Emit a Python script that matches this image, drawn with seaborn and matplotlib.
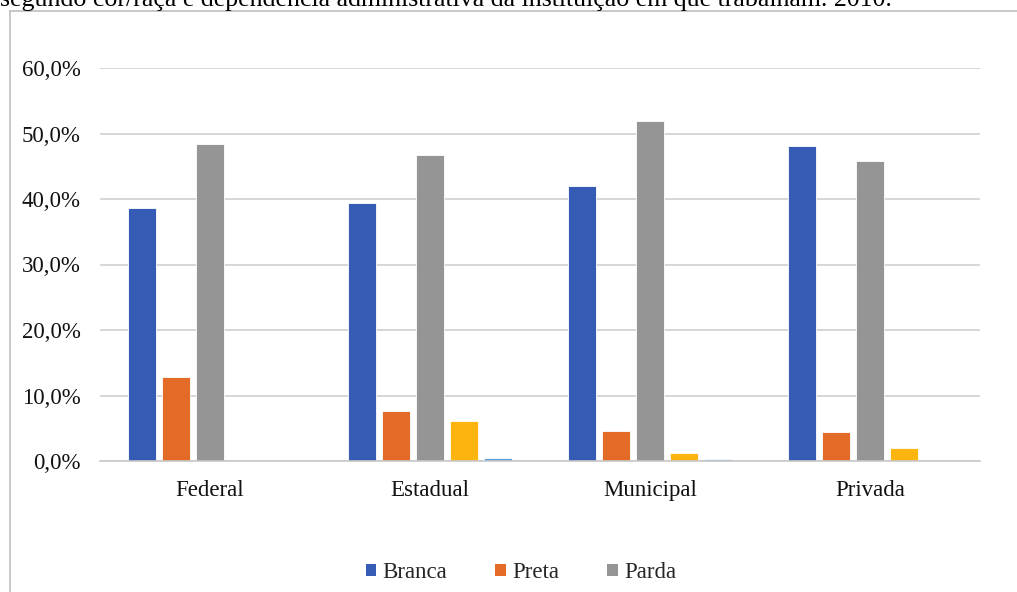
import matplotlib
matplotlib.use("Agg")
import matplotlib.pyplot as plt
from matplotlib.lines import Line2D
from matplotlib.patches import Patch
from matplotlib.ticker import FuncFormatter
import pandas as pd
import seaborn as sns

# Share of teachers by colour/race and administrative dependency (2010)
dependencias = ["Federal", "Estadual", "Municipal", "Privada"]
grupos = ["Branca", "Preta", "Parda", "Amarela", "Indígena"]
branca = [38.6, 39.4, 42.0, 48.1]
preta = [12.8, 7.6, 4.6, 4.4]
parda = [48.4, 46.7, 51.9, 45.8]
amarela = [0.0, 6.1, 1.2, 2.0]
indigena = [0.0, 0.4, 0.3, 0.0]
cores = ["#355bb5", "#e46a27", "#959595", "#fdb40f", "#5b9bd5"]
yticks = [0, 10, 20, 30, 40, 50, 60]

series = [branca, preta, parda, amarela, indigena]
rows = []
for g, vals in zip(grupos, series):
    for d, v in zip(dependencias, vals):
        rows.append({"dependencia": d, "grupo": g, "valor": v / 100})
df = pd.DataFrame(rows)

sns.set_theme(style="white")
plt.rcParams["font.family"] = ["Liberation Serif", "DejaVu Serif"]

W, H = 1017, 592
FS = 16.5
fig = plt.figure(figsize=(W / 100, H / 100), dpi=100)
fig.patch.set_facecolor("white")
ax = fig.add_axes([100 / W, 1 - 461 / H, 880 / W, (461 - 68) / H])

sns.barplot(data=df, x="dependencia", y="valor", hue="grupo",
            order=dependencias, hue_order=grupos, palette=cores,
            width=0.773, gap=0.2, saturation=1, errorbar=None,
            edgecolor="white", linewidth=0.6, legend=False, ax=ax)

ax.set_ylim(0, 0.6)
ax.set_xlim(-0.5, len(dependencias) - 0.5)
ax.set_yticks([t / 100 for t in yticks])
ax.yaxis.set_major_formatter(FuncFormatter(lambda v, _: f"{v * 100:.1f}%".replace(".", ",")))
ax.grid(axis="y", color="#d0d0d0", linewidth=1.2)
ax.set_axisbelow(True)
for s in ["top", "right", "left"]:
    ax.spines[s].set_visible(False)
ax.spines["bottom"].set_color("#c8c8c8")
ax.spines["bottom"].set_linewidth(1.2)
ax.tick_params(axis="y", length=0, pad=14, labelsize=FS, labelcolor="#111111")
ax.tick_params(axis="x", length=0, pad=14, labelsize=FS, labelcolor="#111111")
ax.set_xlabel("")
ax.set_ylabel("")

handles = [Patch(facecolor=c, edgecolor="none") for c in cores[:3]]
fig.legend(handles, grupos[:3], loc="center", bbox_to_anchor=(521 / W, 1 - 573 / H),
           ncol=3, frameon=False, fontsize=FS, handlelength=0.45, handleheight=0.45,
           handletextpad=0.28, columnspacing=2.1)

# Chart frame
fig.add_artist(Line2D([10 / W, 1], [1 - 11 / H, 1 - 11 / H], color="#bdbdbd", linewidth=1.2))
fig.add_artist(Line2D([10 / W, 10 / W], [1 - 11 / H, 0], color="#bdbdbd", linewidth=1.2))

fig.text(0, 1 - 6 / H,
         "segundo cor/raça e dependência administrativa da instituição em que trabalham. 2010.",
         fontsize=18.6, va="baseline", ha="left", color="black")

fig.savefig("out.png", dpi=100)
